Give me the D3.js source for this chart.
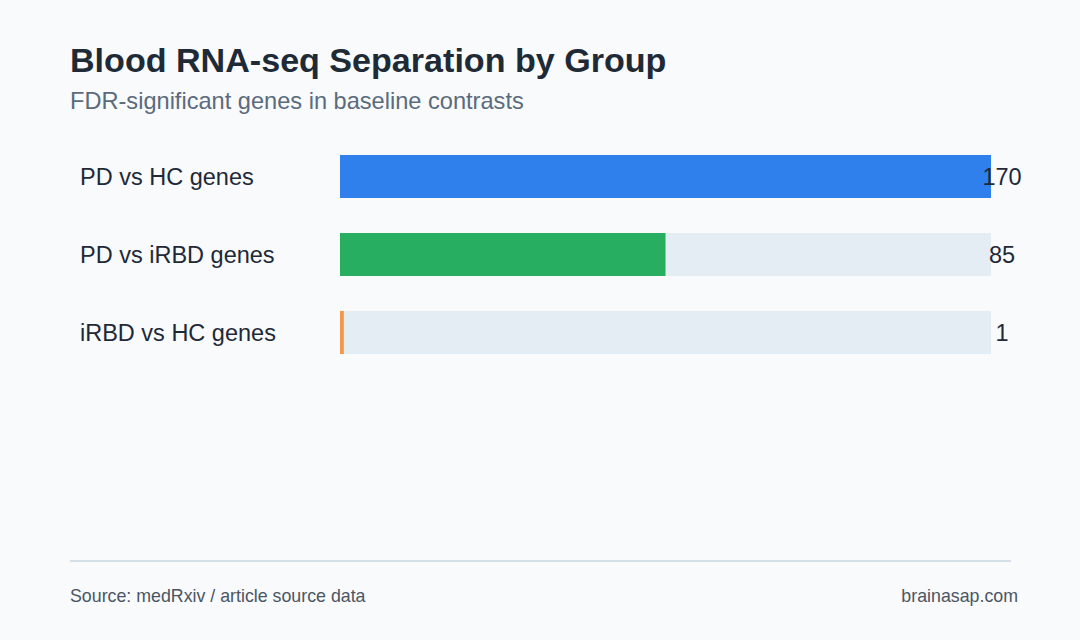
<!DOCTYPE html>
<html>
<head>
<meta charset="utf-8">
<script src="https://cdn.jsdelivr.net/npm/d3@7"></script>
<style>
  html, body { margin: 0; padding: 0; background: #f8fafc; }
  text { font-family: "Liberation Sans", Arial, sans-serif; }
</style>
</head>
<body>
<div id="chart"></div>
<script>
// Données du graphique
const categories = ["PD vs HC genes", "PD vs iRBD genes", "iRBD vs HC genes"];
const values = [170, 85, 1];
const colors = ["#2f80ed", "#27ae60", "#f2994a"];
const maxValue = 170;

const W = 1080, H = 640,
    barLeft = 340, barRight = 991,
    barTop = 155, step = 78, barHeight = 43;

const svg = d3.select("#chart").append("svg")
    .attr("width", W)
    .attr("height", H)
    .style("display", "block")
    .style("background", "#f8fafc");

// Titre et sous-titre
svg.append("text")
    .attr("x", 70)
    .attr("y", 72)
    .style("font-size", "34.1px")
    .style("font-weight", "bold")
    .style("fill", "#1f2a37")
    .text("Blood RNA-seq Separation by Group");

svg.append("text")
    .attr("x", 70)
    .attr("y", 109)
    .style("font-size", "23.6px")
    .style("fill", "#5b6b7c")
    .text("FDR-significant genes in baseline contrasts");

const x = d3.scaleLinear()
    .domain([0, maxValue])
    .range([barLeft, barRight]);

const y = d3.scaleBand()
    .domain(categories)
    .range([barTop, barTop + 2 * step + barHeight])
    .paddingInner((step - barHeight) / step)
    .paddingOuter(0);

const rows = svg.selectAll("g.row")
    .data(categories)
    .enter().append("g")
    .attr("class", "row");

// fond gris de chaque barre
rows.append("rect")
    .attr("x", x(0))
    .attr("y", d => y(d))
    .attr("width", x(maxValue) - x(0))
    .attr("height", y.bandwidth())
    .style("fill", "#e4ecf4");

rows.append("rect")
    .attr("x", x(0))
    .attr("y", d => y(d))
    .attr("width", (d, i) => x(values[i]) - x(0))
    .attr("height", y.bandwidth())
    .style("fill", (d, i) => colors[i]);

rows.append("text")
    .attr("x", 80)
    .attr("y", d => y(d) + y.bandwidth() / 2)
    .attr("dy", "0.35em")
    .style("font-size", "23.5px")
    .style("fill", "#1f2937")
    .text(d => d);

rows.append("text")
    .attr("x", barRight + 11)
    .attr("y", d => y(d) + y.bandwidth() / 2)
    .attr("dy", "0.35em")
    .attr("text-anchor", "middle")
    .style("font-size", "23.5px")
    .style("fill", "#1f2937")
    .text((d, i) => values[i]);

// Pied de page
svg.append("line")
    .attr("x1", 70)
    .attr("x2", 1011)
    .attr("y1", 561)
    .attr("y2", 561)
    .style("stroke", "#cbd5e1")
    .style("stroke-width", 1.5);

svg.append("text")
    .attr("x", 70)
    .attr("y", 602)
    .style("font-size", "17.8px")
    .style("fill", "#4b5563")
    .text("Source: medRxiv / article source data");

svg.append("text")
    .attr("x", 1018)
    .attr("y", 602)
    .attr("text-anchor", "end")
    .style("font-size", "17.8px")
    .style("fill", "#4b5563")
    .text("brainasap.com");
</script>
</body>
</html>
